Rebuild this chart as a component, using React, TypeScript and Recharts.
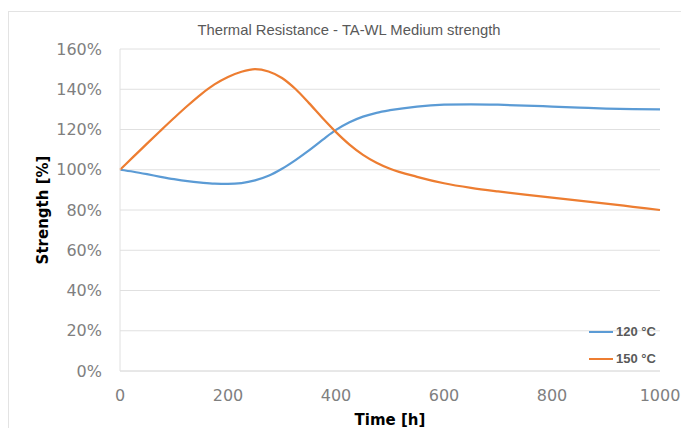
import { LineChart, Line, XAxis, YAxis, CartesianGrid } from 'recharts'

const hours = [
  0, 25, 50, 75, 100, 125, 150, 175, 200, 225, 250, 275, 300, 325, 350, 375, 400, 425, 450, 475, 500,
  550, 600, 650, 700, 750, 800, 850, 900, 950, 1000,
]
const strength120 = [
  100, 99, 97.8, 96.5, 95.3, 94.3, 93.6, 93.1, 93, 93.4, 94.7, 97, 100.5, 104.8, 109.6, 114.8, 119.8, 123.6, 126.4, 128.3, 129.6,
  131.4, 132.3, 132.5, 132.3, 131.9, 131.4, 130.9, 130.4, 130.1, 130,
]
const strength150 = [
  100, 106.5, 113, 119.4, 125.7, 131.8, 137.5, 142.4, 146.1, 148.7, 150, 148.8, 145.6, 140.1, 133.1, 125.7, 118.7, 112.5, 107.4, 103.5, 100.5,
  96.5, 93.3, 91, 89.2, 87.6, 86.1, 84.7, 83.2, 81.6, 80,
]
const xTicks = [0, 200, 400, 600, 800, 1000]
const yTicks = [0, 20, 40, 60, 80, 100, 120, 140, 160]
const seriesNames = ['120 °C', '150 °C']
const seriesColors = ['#5B9BD5', '#ED7D31']

const data = hours.map((h, i) => ({ h, s120: strength120[i], s150: strength150[i] }))

const tickFont = { fontFamily: 'DejaVu Sans', fontSize: 16, fill: '#7f7f7f' }
const axisTitle = {
  position: 'absolute' as const,
  zIndex: 2,
  whiteSpace: 'nowrap' as const,
  fontFamily: 'DejaVu Sans',
  fontWeight: 700,
  fontSize: 15,
  color: '#000',
}

export default function App() {
  return (
    <div style={{ position: 'fixed', left: 0, top: 0, width: 681, height: 428, overflow: 'hidden', background: '#fff' }}>
      <div
        style={{
          position: 'absolute',
          left: 8,
          top: 11,
          width: 700,
          height: 440,
          border: '1px solid #e3e3e3',
        }}
      />
      <div
        style={{
          position: 'absolute',
          zIndex: 2,
          left: 8,
          width: 682,
          top: 22,
          textAlign: 'center',
          fontFamily: 'Liberation Sans',
          fontSize: 14.8,
          color: '#595959',
        }}
      >
        Thermal Resistance - TA-WL Medium strength
      </div>
      <div style={{ ...axisTitle, left: 120, width: 540, top: 411, textAlign: 'center' }}>Time [h]</div>
      <div style={{ ...axisTitle, left: 43, top: 210, transform: 'translate(-50%, -50%) rotate(-90deg)' }}>
        Strength [%]
      </div>
      <div
        style={{
          position: 'absolute',
          zIndex: 2,
          left: 589,
          top: 318,
          fontFamily: 'Liberation Sans',
          fontWeight: 700,
          fontSize: 13,
          color: '#595959',
        }}
      >
        {seriesNames.map((name, i) => (
          <div key={name} style={{ display: 'flex', alignItems: 'center', height: 27 }}>
            <span style={{ width: 24, height: 2, background: seriesColors[i], marginRight: 3 }} />
            {name}
          </div>
        ))}
      </div>
      <LineChart
        width={681}
        height={428}
        data={data}
        margin={{ top: 49, right: 21, left: 60, bottom: 27 }}
        style={{ position: 'absolute', left: 0, top: 0 }}
      >
        <CartesianGrid stroke="#e0e0e0" vertical={false} />
        <XAxis
          dataKey="h"
          type="number"
          domain={[0, 1000]}
          ticks={xTicks}
          tick={tickFont}
          tickLine={false}
          axisLine={{ stroke: '#e0e0e0' }}
          tickMargin={13}
          height={30}
        />
        <YAxis
          type="number"
          domain={[0, 160]}
          ticks={yTicks}
          tickFormatter={(v) => `${v}%`}
          tick={tickFont}
          tickLine={false}
          axisLine={{ stroke: '#e0e0e0' }}
          tickMargin={12}
          width={60}
        />
        <Line
          type="monotone"
          dataKey="s120"
          name={seriesNames[0]}
          stroke={seriesColors[0]}
          strokeWidth={2.25}
          dot={false}
          isAnimationActive={false}
        />
        <Line
          type="monotone"
          dataKey="s150"
          name={seriesNames[1]}
          stroke={seriesColors[1]}
          strokeWidth={2.25}
          dot={false}
          isAnimationActive={false}
        />
      </LineChart>
    </div>
  )
}
